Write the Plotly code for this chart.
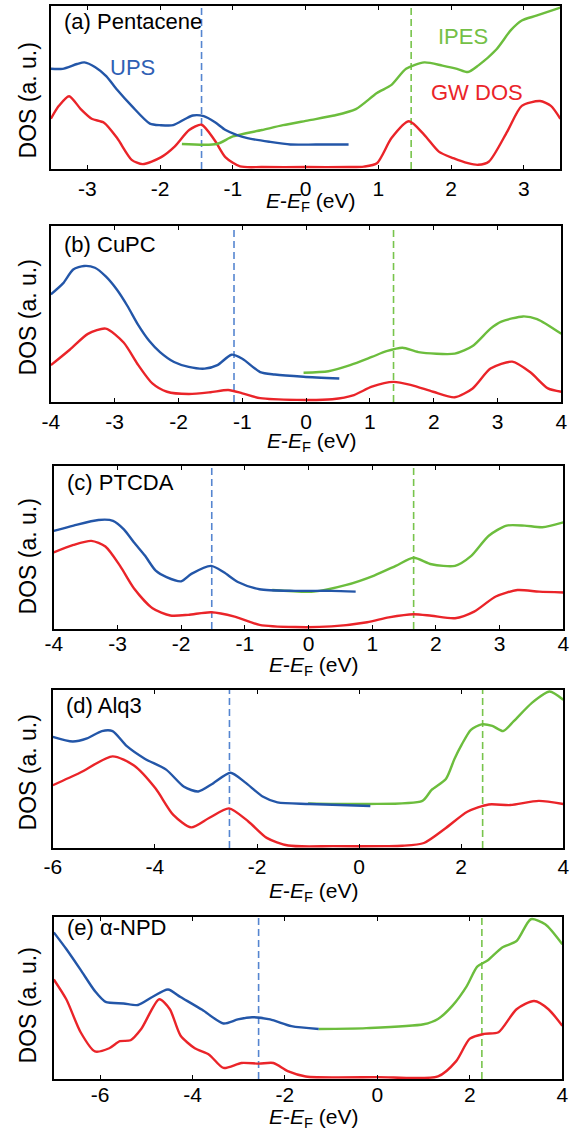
import plotly.graph_objects as go

W, H = 580, 1133

# ---------------- (a) Pentacene ----------------
a_ups_x = [-3.5, -3.34, -3.14, -3.04, -2.89, -2.74, -2.59, -2.39, -2.14, -1.99, -1.82, -1.65, -1.55,
           -1.40, -1.25, -1.10, -0.95, -0.80, -0.50, -0.21, 0.14, 0.59]
a_ups_y = [0.61, 0.61, 0.64, 0.65, 0.62, 0.565, 0.48, 0.38, 0.27, 0.26, 0.26, 0.30, 0.32,
           0.316, 0.28, 0.23, 0.20, 0.18, 0.157, 0.14, 0.14, 0.14]
a_ipes_x = [-1.70, -1.22, -1.0, -0.60, -0.31, 0.04, 0.39, 0.69, 0.98, 1.18, 1.38, 1.63, 1.88,
            2.08, 2.23, 2.37, 2.62, 2.82, 2.97, 3.17, 3.5]
a_ipes_y = [0.143, 0.143, 0.19, 0.23, 0.26, 0.29, 0.32, 0.36, 0.46, 0.51, 0.61, 0.65, 0.63,
            0.61, 0.59, 0.63, 0.73, 0.85, 0.91, 0.94, 0.99]
a_gw_x = [-3.5, -3.39, -3.25, -3.09, -2.94, -2.77, -2.59, -2.39, -2.24, -1.99, -1.80, -1.60, -1.43,
          -1.25, -1.10, -0.90, -0.6, 0.0, 0.6, 0.8, 0.98, 1.18, 1.42, 1.63, 1.83, 2.03, 2.23,
          2.37, 2.52, 2.77, 2.97, 3.22, 3.37, 3.5]
a_gw_y = [0.30, 0.38, 0.44, 0.36, 0.30, 0.275, 0.18, 0.045, 0.018, 0.06, 0.127, 0.23, 0.263,
          0.167, 0.06, 0.004, 0.0, 0.0, 0.0, 0.003, 0.024, 0.18, 0.284, 0.20, 0.096, 0.055, 0.024,
          0.014, 0.035, 0.22, 0.38, 0.41, 0.38, 0.30]
a_levels = [-1.43, 1.45]

# ---------------- (b) CuPC ----------------
b_ups_x = [-4.0, -3.81, -3.65, -3.48, -3.31, -3.14, -2.97, -2.80, -2.63, -2.46, -2.29, -2.07,
           -1.84, -1.59, -1.39, -1.17, -1.0, -0.72, -0.49, -0.04, 0.52]
b_ups_y = [0.607, 0.67, 0.75, 0.77, 0.76, 0.71, 0.636, 0.54, 0.43, 0.34, 0.275, 0.218,
           0.19, 0.18, 0.20, 0.26, 0.237, 0.16, 0.146, 0.133, 0.123]
b_ipes_x = [-0.04, 0.35, 0.69, 1.03, 1.26, 1.51, 1.76, 2.33, 2.61, 2.89, 3.06, 3.40, 3.62, 4.0]
b_ipes_y = [0.156, 0.165, 0.20, 0.247, 0.28, 0.30, 0.275, 0.266, 0.31, 0.41, 0.45, 0.48, 0.465, 0.38]
b_gw_x = [-4.0, -3.70, -3.42, -3.14, -2.86, -2.63, -2.41, -2.18, -1.84, -1.50, -1.22, -1.0, -0.72,
          -0.15, 0.41, 0.75, 1.03, 1.37, 1.65, 1.99, 2.33, 2.61, 2.89, 3.23, 3.51, 3.79, 4.0]
b_gw_y = [0.20, 0.29, 0.38, 0.41, 0.33, 0.20, 0.095, 0.047, 0.034, 0.044, 0.057, 0.038, 0.01,
          0.0, 0.004, 0.028, 0.076, 0.104, 0.085, 0.047, 0.015, 0.066, 0.18, 0.22, 0.16, 0.066, 0.047]
b_levels = [-1.13, 1.37]

# ---------------- (c) PTCDA ----------------
c_ups_x = [-4.0, -3.69, -3.30, -3.07, -2.90, -2.74, -2.57, -2.40, -2.23, -2.0, -1.84, -1.53,
           -1.33, -1.11, -0.77, -0.21, 0.36, 0.74]
c_ups_y = [0.597, 0.63, 0.665, 0.66, 0.607, 0.525, 0.444, 0.35, 0.31, 0.284, 0.33, 0.38,
           0.34, 0.28, 0.235, 0.225, 0.225, 0.22]
c_ipes_x = [-0.57, 0.08, 0.58, 1.03, 1.37, 1.65, 1.93, 2.30, 2.55, 2.83, 3.11, 3.39, 3.67, 4.0]
c_ipes_y = [0.23, 0.22, 0.26, 0.32, 0.38, 0.43, 0.39, 0.38, 0.44, 0.567, 0.63, 0.63, 0.62, 0.65]
c_gw_x = [-4.0, -3.69, -3.41, -3.19, -2.96, -2.74, -2.45, -2.17, -1.89, -1.53, -1.16, -0.77,
          -0.21, 0.36, 0.92, 1.26, 1.65, 1.93, 2.30, 2.60, 2.94, 3.28, 3.62, 4.0]
c_gw_y = [0.464, 0.51, 0.535, 0.50, 0.38, 0.24, 0.117, 0.072, 0.076, 0.092, 0.065, 0.014,
          0.0, 0.004, 0.03, 0.06, 0.08, 0.07, 0.055, 0.096, 0.19, 0.23, 0.22, 0.215]
c_levels = [-1.52, 1.65]

# ---------------- (d) Alq3 ----------------
d_ups_x = [-6.0, -5.61, -5.33, -5.04, -4.83, -4.55, -4.20, -3.78, -3.43, -3.15, -2.87, -2.52,
           -2.24, -1.88, -1.60, -0.97, 0.22]
d_ups_y = [0.70, 0.67, 0.69, 0.737, 0.737, 0.64, 0.56, 0.49, 0.38, 0.35, 0.40, 0.47,
           0.41, 0.316, 0.28, 0.27, 0.257]
d_ipes_x = [-1.0, 0.15, 1.24, 1.42, 1.70, 1.87, 2.01, 2.19, 2.40, 2.61, 2.82, 3.03, 3.38, 3.73, 4.0]
d_ipes_y = [0.274, 0.27, 0.29, 0.36, 0.43, 0.56, 0.65, 0.745, 0.78, 0.77, 0.737, 0.80, 0.916, 0.99, 0.937]
d_gw_x = [-6.0, -5.47, -4.83, -4.41, -3.99, -3.64, -3.29, -2.94, -2.55, -2.17, -1.81, -1.39,
          -0.5, 0.5, 0.85, 1.27, 1.70, 2.12, 2.54, 2.96, 3.52, 4.0]
d_gw_y = [0.39, 0.47, 0.575, 0.516, 0.37, 0.20, 0.12, 0.18, 0.242, 0.158, 0.053, 0.004,
          0.0, 0.0, 0.002, 0.02, 0.116, 0.22, 0.267, 0.263, 0.29, 0.27]
d_levels = [-2.54, 2.42]

# ---------------- (e) α-NPD ----------------
e_ups_x = [-7.0, -6.73, -6.42, -6.11, -5.88, -5.49, -5.18, -4.87, -4.53, -4.26, -3.79, -3.33,
           -3.02, -2.71, -2.32, -1.86, -1.27]
e_ups_y = [0.904, 0.80, 0.67, 0.537, 0.47, 0.46, 0.45, 0.50, 0.547, 0.50, 0.42, 0.335,
           0.36, 0.374, 0.36, 0.318, 0.30]
e_ipes_x = [-1.27, -0.24, 1.0, 1.31, 1.62, 1.93, 2.16, 2.39, 2.70, 3.01, 3.32, 3.63, 4.0]
e_ipes_y = [0.30, 0.306, 0.33, 0.363, 0.445, 0.567, 0.69, 0.73, 0.81, 0.85, 0.986, 0.955, 0.83]
e_gw_x = [-7.0, -6.73, -6.42, -6.11, -5.80, -5.57, -5.34, -5.11, -4.72, -4.49, -4.26, -3.95,
          -3.64, -3.33, -2.94, -2.56, -2.25, -1.94, -1.55, 0.0, 1.31, 1.70, 2.0, 2.31, 2.62,
          3.01, 3.39, 3.70, 4.0]
e_gw_y = [0.61, 0.486, 0.28, 0.16, 0.18, 0.224, 0.23, 0.30, 0.486, 0.424, 0.26, 0.18,
          0.14, 0.057, 0.088, 0.084, 0.088, 0.037, 0.004, 0.0, 0.004, 0.098, 0.24, 0.27, 0.28,
          0.424, 0.475, 0.424, 0.32]
e_levels = [-2.57, 2.26]

# panel names, axis ranges and tick labels
panel_names = ["(a) Pentacene", "(b) CuPC", "(c) PTCDA", "(d) Alq3", "(e) α-NPD"]
x_title = "<i>E</i>-<i>E</i><sub>F</sub> (eV)"
y_title = "DOS (a. u.)"
x_ranges = [[-3.5, 3.5], [-4, 4], [-4, 4], [-6, 4], [-7, 4]]
tick_vals = [[-3, -2, -1, 0, 1, 2, 3],
             [-4, -3, -2, -1, 0, 1, 2, 3, 4],
             [-4, -3, -2, -1, 0, 1, 2, 3, 4],
             [-6, -4, -2, 0, 2, 4],
             [-6, -4, -2, 0, 2, 4]]
tick_text = [["-3", "-2", "-1", "0", "1", "2", "3"],
             ["-4", "-3", "-2", "-1", "0", "1", "2", "3", "4"],
             ["-4", "-3", "-2", "-1", "0", "1", "2", "3", "4"],
             ["-6", "-4", "-2", "0", "2", "4"],
             ["-6", "-4", "-2", "0", "2", "4"]]

spectra = [
    (a_ups_x, a_ups_y, a_ipes_x, a_ipes_y, a_gw_x, a_gw_y, a_levels),
    (b_ups_x, b_ups_y, b_ipes_x, b_ipes_y, b_gw_x, b_gw_y, b_levels),
    (c_ups_x, c_ups_y, c_ipes_x, c_ipes_y, c_gw_x, c_gw_y, c_levels),
    (d_ups_x, d_ups_y, d_ipes_x, d_ipes_y, d_gw_x, d_gw_y, d_levels),
    (e_ups_x, e_ups_y, e_ipes_x, e_ipes_y, e_gw_x, e_gw_y, e_levels),
]

# plot-area frames in pixels: left, right, top, bottom
frames = [(43, 566, 6, 169), (43, 567, 226, 402), (46, 569, 466, 629),
          (45, 569, 690, 848), (46, 568, 917, 1079)]
# pixel centres of the axis titles and tick-label offsets
x_title_y = [202, 442, 666, 892, 1118]
y_title_y = [100, 317, 556, 772, 1005]
label_standoff = [0, 0, -5, -1, -4]
tag_y = [22, 245, 483, 705, 927]

BLUE, GREEN, RED = "#2356a8", "#6cbd3d", "#ea2429"
BLUE_DASH, GREEN_DASH = "#5585d0", "#78c44c"
FONT = "Arial, Liberation Sans, Helvetica, sans-serif"

fig = go.Figure()
layout = dict(
    width=W, height=H, margin=dict(l=0, r=0, t=0, b=0),
    paper_bgcolor="white", plot_bgcolor="white", showlegend=False,
    font=dict(family=FONT, color="black", size=21),
)
annotations = []

for i, (ux, uy, ix, iy, gx, gy, lv) in enumerate(spectra):
    n = "" if i == 0 else str(i + 1)
    xa, ya = "x" + n, "y" + n
    left, right, top, bottom = frames[i]
    layout["xaxis" + n] = dict(
        domain=[left / W, right / W], anchor=ya, range=x_ranges[i],
        tickvals=tick_vals[i], ticktext=tick_text[i],
        ticks="inside", ticklen=4, tickwidth=1.2, tickcolor="black",
        showline=True, linecolor="black", linewidth=1.6, mirror="ticks",
        showgrid=False, zeroline=False, ticklabelstandoff=label_standoff[i],
        tickfont=dict(size=21, family=FONT, color="black"),
    )
    layout["yaxis" + n] = dict(
        domain=[1 - bottom / H, 1 - top / H], anchor=xa, range=[-0.012, 1.0],
        showticklabels=False, ticks="", showline=True, linecolor="black",
        linewidth=1.6, mirror=True, showgrid=False, zeroline=False,
    )
    # band-edge markers
    for xv, col in zip(lv, [BLUE_DASH, GREEN_DASH]):
        fig.add_trace(go.Scatter(x=[xv, xv], y=[-0.012, 1.0], mode="lines", xaxis=xa, yaxis=ya,
                                 line=dict(color=col, width=1.6, dash="7px,4px"),
                                 hoverinfo="skip"))
    fig.add_trace(go.Scatter(x=gx, y=gy, mode="lines", xaxis=xa, yaxis=ya, name="GW DOS",
                             line=dict(color=RED, width=2.4, shape="spline", smoothing=0.7)))
    fig.add_trace(go.Scatter(x=ix, y=iy, mode="lines", xaxis=xa, yaxis=ya, name="IPES",
                             line=dict(color=GREEN, width=2.4, shape="spline", smoothing=0.7)))
    fig.add_trace(go.Scatter(x=ux, y=uy, mode="lines", xaxis=xa, yaxis=ya, name="UPS",
                             line=dict(color=BLUE, width=2.4, shape="spline", smoothing=0.7)))
    # panel tag
    annotations.append(dict(text=panel_names[i], xref="paper", yref="paper",
                            x=(left + 11) / W, y=1 - tag_y[i] / H, xanchor="left",
                            yanchor="middle", showarrow=False,
                            font=dict(size=22, family=FONT, color="black")))
    # axis titles
    annotations.append(dict(text=x_title, xref="paper", yref="paper",
                            x=((left + right) / 2 + 6) / W, y=1 - x_title_y[i] / H,
                            xanchor="center", yanchor="middle", showarrow=False,
                            font=dict(size=21, family=FONT, color="black")))
    annotations.append(dict(text=y_title, xref="paper", yref="paper", textangle=-90,
                            x=20 / W, y=1 - y_title_y[i] / H,
                            xanchor="center", yanchor="middle", showarrow=False,
                            font=dict(size=23, family=FONT, color="black")))

# curve labels in panel (a)
annotations += [
    dict(text="UPS", x=-2.38, y=0.62, xref="x", yref="y", showarrow=False,
         font=dict(size=22, family=FONT, color="#2f60b4")),
    dict(text="IPES", x=2.16, y=0.81, xref="x", yref="y", showarrow=False,
         font=dict(size=22, family=FONT, color="#74c046")),
    dict(text="GW DOS", x=2.36, y=0.46, xref="x", yref="y", showarrow=False,
         font=dict(size=22, family=FONT, color=RED)),
]
layout["annotations"] = annotations
fig.update_layout(**layout)
fig.write_html("out.html")
